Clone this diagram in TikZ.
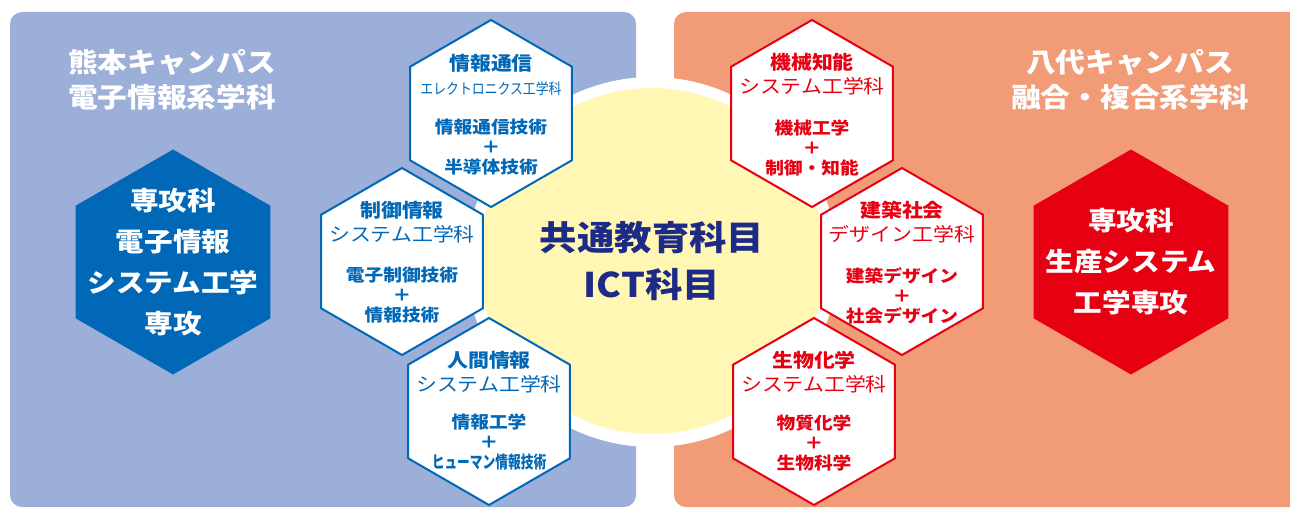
\documentclass[tikz,border=0pt]{standalone}
\usepackage{fontspec}
\usepackage{graphicx}
\setmainfont[FakeStretch=1.1]{Noto Sans CJK JP}
\usetikzlibrary{shapes.geometric}
\definecolor{b1}{HTML}{9BAFD9}
\definecolor{b2}{HTML}{0068B7}
\definecolor{r1}{HTML}{F19B77}
\definecolor{r2}{HTML}{E60012}
\definecolor{y1}{HTML}{FFF7B3}
\definecolor{n1}{HTML}{1D2A86}
\tikzset{
  hexa/.style={regular polygon, regular polygon sides=6, shape border rotate=30,
    inner sep=0pt, outer sep=0pt},
  hexs/.style={hexa, minimum size=187pt, fill=white, line width=2pt},
  hexb/.style={hexa, minimum size=225pt},
  ttl/.style={align=center, font=\fontsize{19}{24}\selectfont\bfseries},
  sub/.style={align=center, font=\fontsize{17}{20}\selectfont\bfseries},
  head/.style={align=center, text=white, font=\fontsize{27}{35}\selectfont\bfseries},
  grad/.style={align=center, text=white, font=\fontsize{26}{41}\selectfont\bfseries}
}

\begin{document}
\begin{tikzpicture}[x=1pt,y=-1pt]
\useasboundingbox (0,0) rectangle (1290,508);
\begin{scope}
\clip (0,0) rectangle (1290,508);
\fill[b1, rounded corners=12pt] (10,12) rectangle (636,507);
\fill[r1, rounded corners=12pt] (674,12) rectangle (1320,507);
\fill[white] (652,262) circle (185pt);
\fill[y1] (652,261) circle (173pt);
\end{scope}

% campus titles
\node[head] (kuma) at (172,79.5) {熊本キャンパス\\電子情報系学科};
\node[head] (yatsu) at (1130,79.5) {八代キャンパス\\融合・複合系学科};

% advanced courses
\node[hexb, fill=b2] (senb) at (173,262) {};
\node[grad] (senb-t) at (senb.center) {専攻科\\電子情報\\システム工学\\専攻};
\node[hexb, fill=r2] (senr) at (1131,262) {};
\node[grad] (senr-t) at (senr.center) {専攻科\\生産システム\\工学専攻};

% Kumamoto departments
\node[hexs, draw=b2] (tsu) at (491,113.5) {};
\node[ttl, text=b2] (tsu-t) at ([yshift=39pt]tsu.center) {情報通信\\{\mdseries\fontsize{15}{24}\selectfont\scalebox{0.78}[1]{エレクトロニクス工学科}}};
\node[sub, text=b2] (tsu-s) at ([yshift=-34pt]tsu.center) {情報通信技術\\＋\\半導体技術};
\node[hexs, draw=b2] (sei) at (402,261.5) {};
\node[ttl, text=b2] (sei-t) at ([yshift=39pt]sei.center) {制御情報\\{\mdseries システム工学科}};
\node[sub, text=b2] (sei-s) at ([yshift=-34pt]sei.center) {電子制御技術\\＋\\情報技術};
\node[hexs, draw=b2] (nin) at (489,411.5) {};
\node[ttl, text=b2] (nin-t) at ([yshift=39pt]nin.center) {人間情報\\{\mdseries システム工学科}};
\node[sub, text=b2] (nin-s) at ([yshift=-31pt]nin.center) {情報工学\\＋\\{\scalebox{0.68}[1]{ヒューマン情報技術}}};

% Yatsushiro departments
\node[hexs, draw=r2] (kik) at (812,113.5) {};
\node[ttl, text=r2] (kik-t) at ([yshift=39pt]kik.center) {機械知能\\{\mdseries システム工学科}};
\node[sub, text=r2] (kik-s) at ([yshift=-34pt]kik.center) {機械工学\\＋\\制御・知能};
\node[hexs, draw=r2] (ken) at (902,261.5) {};
\node[ttl, text=r2] (ken-t) at ([yshift=39pt]ken.center) {建築社会\\{\mdseries デザイン工学科}};
\node[sub, text=r2] (ken-s) at ([yshift=-34pt]ken.center) {建築デザイン\\＋\\社会デザイン};
\node[hexs, draw=r2] (bio) at (814,411.5) {};
\node[ttl, text=r2] (bio-t) at ([yshift=39pt]bio.center) {生物化学\\{\mdseries システム工学科}};
\node[sub, text=r2] (bio-s) at ([yshift=-31pt]bio.center) {物質化学\\＋\\生物科学};

% common subjects
\node[align=center, text=n1, font=\fontsize{34}{47}\selectfont\bfseries] (ict) at (652,261.5) {共通教育科目\\ICT科目};
\end{tikzpicture}
\end{document}
